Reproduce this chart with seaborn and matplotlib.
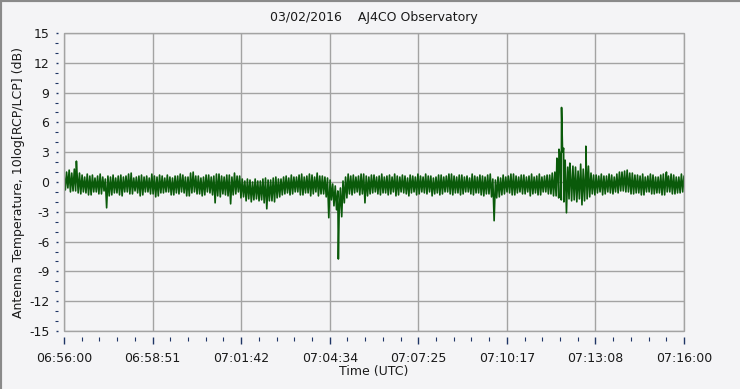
import matplotlib
matplotlib.use("Agg")
import numpy as np
import pandas as pd
import matplotlib.pyplot as plt
import seaborn as sns
from matplotlib.ticker import MultipleLocator
from matplotlib.patches import Rectangle
from matplotlib.lines import Line2D

# ---------------- data ----------------
title_text = "03/02/2016    AJ4CO Observatory"
x_label = "Time (UTC)"
y_label = "Antenna Temperature, 10log[RCP/LCP] (dB)"

x_tick_labels = ["06:56:00", "06:58:51", "07:01:42", "07:04:34",
                 "07:07:25", "07:10:17", "07:13:08", "07:16:00"]
duration_s = 1200  # 06:56:00 -> 07:16:00
y_ticks = [-15, -12, -9, -6, -3, 0, 3, 6, 9, 12, 15]

# upper envelope of the trace, every 5 s starting at t = 0 s
hi_t = [i * 5.0 for i in range(241)]
hi_v = [0.8, 1.0, 1.2, 0.9, 1.3, 1.1, 0.9, 0.7, 0.5, 0.8,
        0.6, 0.7, 0.4, 0.6, 0.8, 0.5, 0.3, 0.6, 0.5, 0.7,
        0.4, 0.6, 0.7, 0.5, 0.6, 0.8, 0.9, 0.4, 0.5, 0.6,
        0.7, 0.5, 0.6, 0.4, 0.8, 0.6, 0.5, 0.7, 0.6, 0.4,
        0.7, 0.5, 0.4, 0.6, 0.6, 0.8, 0.7, 0.5, 0.5, 0.9,
        1.0, 0.6, 0.6, 0.4, 0.5, 0.7, 0.7, 0.5, 0.6, 0.8,
        0.8, 0.6, 0.5, 0.7, 0.7, 0.5, 0.9, 0.6, 0.6, 0.3,
        0.1, 0.3, 0.2, 0.0, 0.3, 0.1, 0.1, 0.3, 0.4, 0.2,
        0.2, 0.4, 0.5, 0.3, 0.3, 0.5, 0.6, 0.4, 0.7, 0.5,
        0.5, 0.7, 0.8, 0.5, 0.6, 0.8, 0.7, 0.5, 0.9, 0.6,
        0.6, 0.5, 0.4, 0.2, -0.2, -0.4, -0.9, -0.6, 0.1, 0.5,
        0.8, 0.6, 0.7, 0.5, 0.6, 0.8, 0.8, 0.6, 0.5, 0.7,
        0.7, 0.5, 0.6, 0.8, 0.5, 0.6, 0.7, 0.5, 0.8, 0.6,
        0.5, 0.7, 0.6, 0.4, 0.7, 0.6, 0.5, 0.8, 0.6, 0.5,
        0.8, 0.6, 0.6, 0.4, 0.5, 0.7, 0.7, 0.5, 0.6, 0.8,
        0.8, 0.6, 0.5, 0.7, 0.7, 0.5, 0.6, 0.4, 0.8, 0.6,
        0.5, 0.7, 0.6, 0.5, 0.7, 0.8, 0.3, 0.2, 0.5, 0.4,
        0.7, 0.5, 0.6, 0.8, 0.8, 0.6, 0.5, 0.7, 0.7, 0.5,
        0.6, 0.8, 0.5, 0.6, 0.8, 0.5, 0.6, 0.7, 0.7, 0.9,
        1.0, 2.2, 2.8, 3.0, 2.2, 1.5, 1.2, 1.6, 1.5, 1.1,
        1.8, 1.3, 1.4, 1.6, 0.9, 0.7, 0.7, 0.6, 0.8, 0.6,
        0.6, 0.8, 0.7, 0.5, 0.8, 1.0, 1.0, 1.1, 1.2, 0.9,
        0.9, 0.7, 0.7, 0.6, 0.8, 0.5, 0.6, 0.8, 0.7, 0.5,
        0.5, 0.7, 0.8, 0.6, 0.6, 0.8, 0.7, 0.5, 0.5, 0.8,
        0.6]

# lower envelope of the trace, every 5 s starting at t = 2.5 s
lo_t = [2.5 + i * 5.0 for i in range(240)]
lo_v = [-0.8, -0.6, -1.0, -0.9, -0.9, -1.1, -1.2, -1.0, -1.1, -1.3,
        -1.3, -1.0, -1.0, -1.2, -1.2, -0.9, -2.6, -1.4, -1.3, -1.1,
        -1.1, -1.3, -1.4, -1.0, -1.0, -1.2, -1.2, -0.9, -1.1, -1.4,
        -1.3, -1.0, -1.0, -1.2, -1.2, -1.5, -1.4, -1.1, -1.1, -1.0,
        -1.0, -1.3, -1.3, -1.1, -1.2, -1.0, -1.1, -1.4, -1.4, -1.1,
        -1.0, -1.2, -1.2, -1.4, -1.3, -1.0, -1.1, -1.3, -2.1, -1.4,
        -1.5, -1.2, -1.3, -1.4, -2.2, -1.3, -1.2, -1.0, -1.6, -1.5,
        -1.9, -1.7, -2.0, -1.8, -1.7, -1.9, -1.8, -2.1, -2.7, -1.9,
        -1.9, -2.0, -1.6, -1.5, -1.3, -1.2, -1.1, -1.3, -1.2, -1.0,
        -1.0, -1.3, -1.3, -1.1, -1.1, -1.4, -1.2, -1.0, -1.4, -1.2,
        -1.2, -1.5, -3.6, -1.8, -2.4, -2.8, -3.2, -3.5, -2.1, -1.6,
        -1.2, -1.3, -1.1, -1.0, -1.3, -1.2, -2.1, -1.4, -1.2, -1.1,
        -1.0, -1.2, -1.3, -1.1, -1.1, -1.3, -1.2, -1.0, -1.4, -1.3,
        -1.0, -1.1, -1.2, -1.4, -1.1, -1.0, -1.3, -1.2, -1.0, -1.1,
        -1.2, -1.0, -1.4, -1.2, -1.1, -1.3, -1.2, -1.0, -1.0, -1.2,
        -1.3, -1.1, -1.1, -1.3, -1.2, -1.0, -1.0, -1.2, -1.3, -1.1,
        -1.1, -1.3, -1.4, -1.2, -1.2, -1.5, -3.9, -1.6, -1.5, -1.3,
        -1.2, -1.0, -1.1, -1.3, -1.3, -1.1, -1.0, -1.2, -1.2, -1.0,
        -1.4, -1.2, -1.1, -1.3, -1.3, -1.0, -1.0, -1.2, -1.2, -1.4,
        -1.4, -1.6, -1.8, -2.0, -3.1, -1.7, -1.9, -1.8, -2.0, -1.7,
        -2.3, -1.9, -1.7, -1.5, -1.2, -1.3, -1.1, -1.0, -1.3, -1.2,
        -1.0, -1.1, -1.2, -1.0, -1.1, -0.9, -0.9, -1.0, -1.0, -1.2,
        -1.2, -1.1, -1.1, -1.3, -1.3, -1.0, -1.0, -1.2, -1.2, -1.1,
        -1.1, -1.3, -1.3, -1.0, -1.0, -1.2, -1.2, -1.1, -1.1, -1.0]

# isolated spikes (time in s, value in dB)
spike_t = [24, 531, 954, 958, 963, 967, 979, 1010, 1166]
spike_v = [2.1, -7.75, 2.4, 3.3, 7.5, 3.4, 1.9, 3.6, 1.0]

# ---------------- build table ----------------
df = pd.DataFrame({
    "t": hi_t + lo_t + spike_t,
    "v": hi_v + lo_v + spike_v,
}).sort_values("t").reset_index(drop=True)

# ---------------- styling ----------------
BG = "#f4f4f6"
GRID = "#a3a3a3"
GREEN = "#0a5a0a"
TXT = "#1a1a1a"
TICKC = "#1f3565"

sns.set_theme(style="white")
plt.rcParams["font.family"] = ["DejaVu Sans"]
plt.rcParams["axes.unicode_minus"] = False

W, H = 740, 389
fig = plt.figure(figsize=(W / 100, H / 100), dpi=100, facecolor=BG)
ax = fig.add_axes([64 / W, 1 - 331 / H, 620 / W, 298 / H])
ax.set_facecolor(BG)

sns.lineplot(data=df, x="t", y="v", estimator=None, sort=False,
             color=GREEN, linewidth=1.2, ax=ax, zorder=3)

ax.set_xlim(0, duration_s)
ax.set_ylim(-15, 15)

major_x = [i * duration_s / 7 for i in range(8)]
ax.set_xticks(major_x)
ax.set_xticklabels(x_tick_labels)
ax.xaxis.set_minor_locator(MultipleLocator(duration_s / 35))
ax.set_yticks(y_ticks)
ax.set_yticklabels([str(v) for v in y_ticks])
ax.yaxis.set_minor_locator(MultipleLocator(1))

ax.grid(which="major", color=GRID, linewidth=1.0, zorder=1)
ax.set_axisbelow(True)

for s in ax.spines.values():
    s.set_visible(False)
ax.spines["left"].set_position(("outward", 4))
ax.spines["bottom"].set_position(("outward", 4))

ax.add_patch(Rectangle((0, 0), 1, 1, transform=ax.transAxes, fill=False,
                       edgecolor=GRID, linewidth=1.0, clip_on=False, zorder=4))

ax.tick_params(axis="x", which="major", bottom=True, length=5, width=1,
               color=TICKC, pad=6, labelsize=9, labelcolor=TXT)
ax.tick_params(axis="x", which="minor", bottom=True, length=3, width=0.8,
               color=TICKC)
ax.tick_params(axis="y", which="major", left=True, length=1.5, width=1,
               color=TICKC, pad=5, labelsize=9, labelcolor=TXT)
ax.tick_params(axis="y", which="minor", left=True, length=2.5, width=0.8,
               color=TICKC)

ax.set_xlabel("")
ax.set_ylabel("")
fig.text(374 / W, 1 - 18 / H, title_text, ha="center", va="center",
         fontsize=9, color=TXT)
fig.text(374 / W, 1 - 371 / H, x_label, ha="center", va="center",
         fontsize=9, color=TXT)
fig.text(19 / W, 1 - 182 / H, y_label, ha="center", va="center",
         rotation=90, fontsize=9, color=TXT)

# window border
fig.add_artist(Line2D([0, 1], [1, 1], transform=fig.transFigure,
                      color="#8a8a8a", linewidth=3))
fig.add_artist(Line2D([0, 0], [0, 1], transform=fig.transFigure,
                      color="#8a8a8a", linewidth=3))

fig.savefig("out.png", dpi=100, facecolor=BG)
